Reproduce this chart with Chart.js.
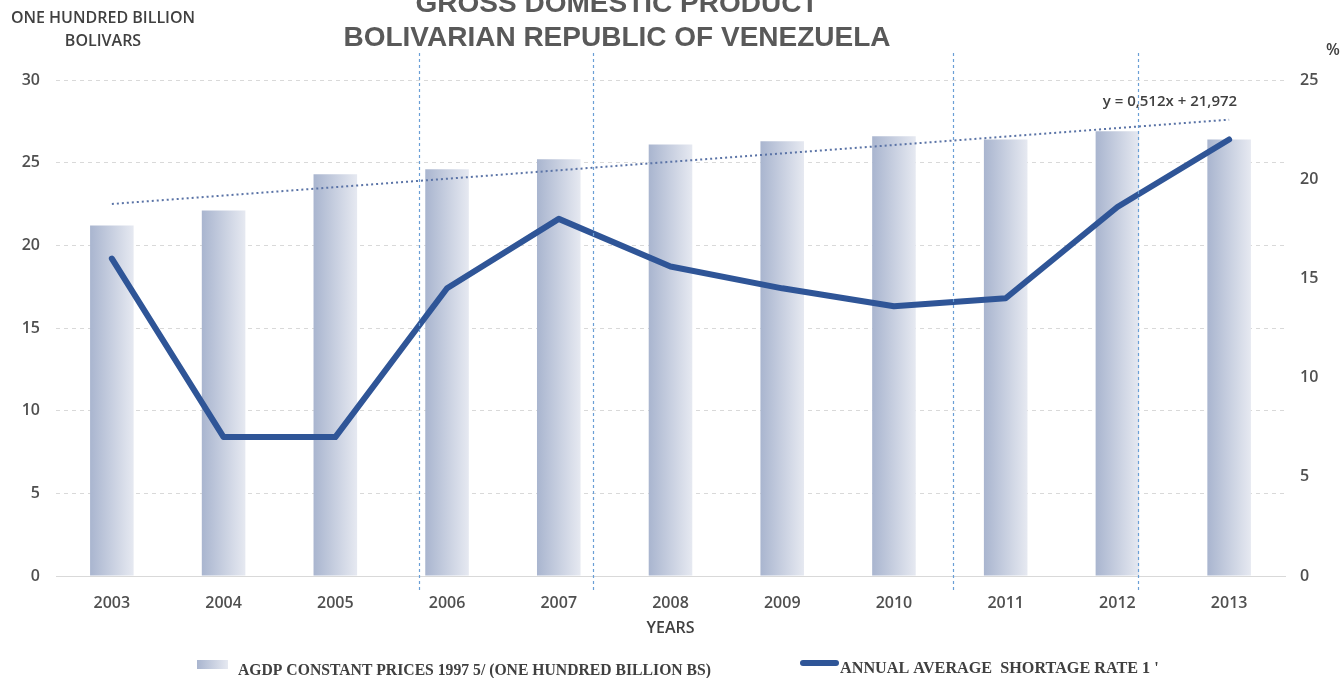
<!DOCTYPE html>
<html>
<head>
  <meta charset="UTF-8">
  <title>GROSS DOMESTIC PRODUCT - VENEZUELA</title>
  <script src="https://cdn.jsdelivr.net/npm/chart.js"></script>
  <style>
    html, body { margin: 0; padding: 0; background: #ffffff; }
    .wrap { position: relative; width: 1341px; height: 678px; }
  </style>
</head>
<body>
  <div class="wrap"><canvas id="gdpChart"></canvas></div>

  <script>
    // x axis categories
    var years = ["2003", "2004", "2005", "2006", "2007", "2008", "2009", "2010", "2011", "2012", "2013"];
    // GDP at constant 1997 prices, hundred billion Bs (left axis)
    var gdp = [21.2, 22.1, 24.3, 24.6, 25.2, 26.1, 26.3, 26.6, 26.4, 26.9, 26.4];
    // annual average shortage rate, % (right axis)
    var shortage = [16, 7, 7, 14.5, 18, 15.6, 14.5, 13.6, 14, 18.6, 22];
    // GDP trend line as read at the first and last year
    var trendStart = 22.5;
    var trendEnd = 27.6;
    // tick labels
    var leftTicks = [0, 5, 10, 15, 20, 25, 30];
    var rightTicks = [0, 5, 10, 15, 20, 25];
    // dashed vertical guides, in category units
    var guideLines = [2.75, 4.31, 7.53, 9.18];

    var trendData = years.map(function (y, i) {
      if (i === 0) return trendStart;
      if (i === years.length - 1) return trendEnd;
      return null;
    });

    var BAR_PCT = 0.39;
    var textGrey = "#404040";
    var tickGrey = "#505050";

    Chart.defaults.font.family = "'Open Sans', sans-serif";

    // horizontal gradient for each bar
    function barFill(c) {
      var chart = c.chart;
      var xs = chart.scales.x;
      if (!xs || c.dataIndex === undefined || !chart.chartArea) return "#c6cee0";
      var cx = xs.getPixelForValue(c.dataIndex);
      var half = xs.width / years.length * BAR_PCT / 2;
      var g = chart.ctx.createLinearGradient(cx - half, 0, cx + half, 0);
      g.addColorStop(0, "#a9b5cf");
      g.addColorStop(1, "#e6e9f1");
      return g;
    }

    var decorations = {
      id: "decorations",
      afterDatasetsDraw: function (chart) {
        var ctx = chart.ctx;
        var xs = chart.scales.x;
        var area = chart.chartArea;
        ctx.save();
        ctx.strokeStyle = "#6a9fd6";
        ctx.lineWidth = 1.2;
        ctx.setLineDash([3, 3]);
        guideLines.forEach(function (v) {
          var x = Math.round(xs.getPixelForValue(v)) + 0.5;
          ctx.beginPath();
          ctx.moveTo(x, area.top - 27);
          ctx.lineTo(x, area.bottom + 17);
          ctx.stroke();
        });
        ctx.restore();
      },
      afterDraw: function (chart) {
        var ctx = chart.ctx;
        var xs = chart.scales.x;
        var yl = chart.scales.y;
        ctx.save();
        ctx.textAlign = "center";
        ctx.textBaseline = "middle";

        // main title, first line is cut by the top edge
        ctx.fillStyle = "#595959";
        ctx.font = "bold 28px 'Liberation Sans', Arial, sans-serif";
        ctx.fillText("GROSS DOMESTIC PRODUCT", 617, 4);
        ctx.fillText("BOLIVARIAN REPUBLIC OF VENEZUELA", 617, 38);

        // axis unit labels
        ctx.fillStyle = textGrey;
        ctx.font = "600 16px 'Open Sans', sans-serif";
        ctx.fillText("ONE HUNDRED BILLION", 103, 18);
        ctx.fillText("BOLIVARS", 103, 41);
        ctx.fillText("%", 1333, 50);

        // trend equation
        ctx.font = "600 15px 'Open Sans', sans-serif";
        ctx.fillText("y = 0,512x + 21,972", xs.getPixelForValue(9.47), yl.getPixelForValue(28.7));

        // legend
        var ds = chart.data.datasets;
        var bars = ds.filter(function (d) { return d.type === "bar"; })[0];
        var line = ds.filter(function (d) { return d.yAxisID === "y1"; })[0];
        var lx = 197, ly = 660;
        var g = ctx.createLinearGradient(lx, 0, lx + 31, 0);
        g.addColorStop(0, "#a9b5cf");
        g.addColorStop(1, "#e6e9f1");
        ctx.fillStyle = g;
        ctx.fillRect(lx, ly, 31, 9);

        ctx.strokeStyle = line.borderColor;
        ctx.lineWidth = 6;
        ctx.lineCap = "round";
        ctx.beginPath();
        ctx.moveTo(803, 663);
        ctx.lineTo(836, 663);
        ctx.stroke();

        ctx.fillStyle = textGrey;
        ctx.textAlign = "left";
        ctx.font = "bold 15.7px 'Liberation Serif', 'Times New Roman', serif";
        ctx.fillText(bars.label, 238, 671);
        ctx.font = "bold 16.2px 'Liberation Serif', 'Times New Roman', serif";
        ctx.fillText(line.label, 840, 669);
        ctx.restore();
      }
    };

    var chart = new Chart(document.getElementById("gdpChart"), {
      data: {
        labels: years,
        datasets: [
          {
            type: "line",
            label: "ANNUAL AVERAGE  SHORTAGE RATE 1 '",
            data: shortage,
            yAxisID: "y1",
            borderColor: "#2f5597",
            backgroundColor: "#2f5597",
            borderWidth: 6,
            borderCapStyle: "round",
            borderJoinStyle: "round",
            pointRadius: 0,
            tension: 0,
            order: 0
          },
          {
            type: "line",
            label: "Linear trend",
            data: trendData,
            yAxisID: "y",
            borderColor: "#5a73a6",
            borderWidth: 2,
            borderDash: [2, 3],
            pointRadius: 0,
            spanGaps: true,
            order: 1
          },
          {
            type: "bar",
            label: "AGDP CONSTANT PRICES 1997 5/ (ONE HUNDRED BILLION BS)",
            data: gdp,
            yAxisID: "y",
            backgroundColor: barFill,
            barPercentage: BAR_PCT,
            categoryPercentage: 1,
            order: 2
          }
        ]
      },
      options: {
        responsive: true,
        maintainAspectRatio: false,
        animation: false,
        layout: { padding: { top: 80, bottom: 40, left: 0, right: 0 } },
        plugins: {
          legend: { display: false },
          title: { display: false },
          tooltip: { enabled: false }
        },
        scales: {
          x: {
            grid: { display: false },
            border: { display: true, color: "#d9d9d9", width: 1 },
            ticks: { color: tickGrey, padding: 10, font: { size: 16, weight: "600" } },
            title: {
              display: true,
              text: "YEARS",
              color: textGrey,
              font: { size: 16, weight: "600" },
              padding: { top: 11, bottom: 0 }
            },
            afterFit: function (s) { s.height = 62; }
          },
          y: {
            position: "left",
            min: leftTicks[0],
            max: leftTicks[leftTicks.length - 1],
            ticks: {
              stepSize: leftTicks[1] - leftTicks[0],
              color: tickGrey,
              padding: 16,
              font: { size: 16, weight: "600" }
            },
            grid: { color: "#d9d9d9", drawTicks: false, lineWidth: 1 },
            border: { display: false, dash: [4, 4] },
            afterFit: function (s) { s.width = 56; }
          },
          y1: {
            position: "right",
            min: rightTicks[0],
            max: rightTicks[rightTicks.length - 1],
            ticks: {
              stepSize: rightTicks[1] - rightTicks[0],
              color: tickGrey,
              padding: 15,
              font: { size: 16, weight: "600" }
            },
            grid: { display: false, drawTicks: false },
            border: { display: false },
            afterFit: function (s) { s.width = 56; }
          }
        }
      },
      plugins: [decorations]
    });
  </script>
</body>
</html>
